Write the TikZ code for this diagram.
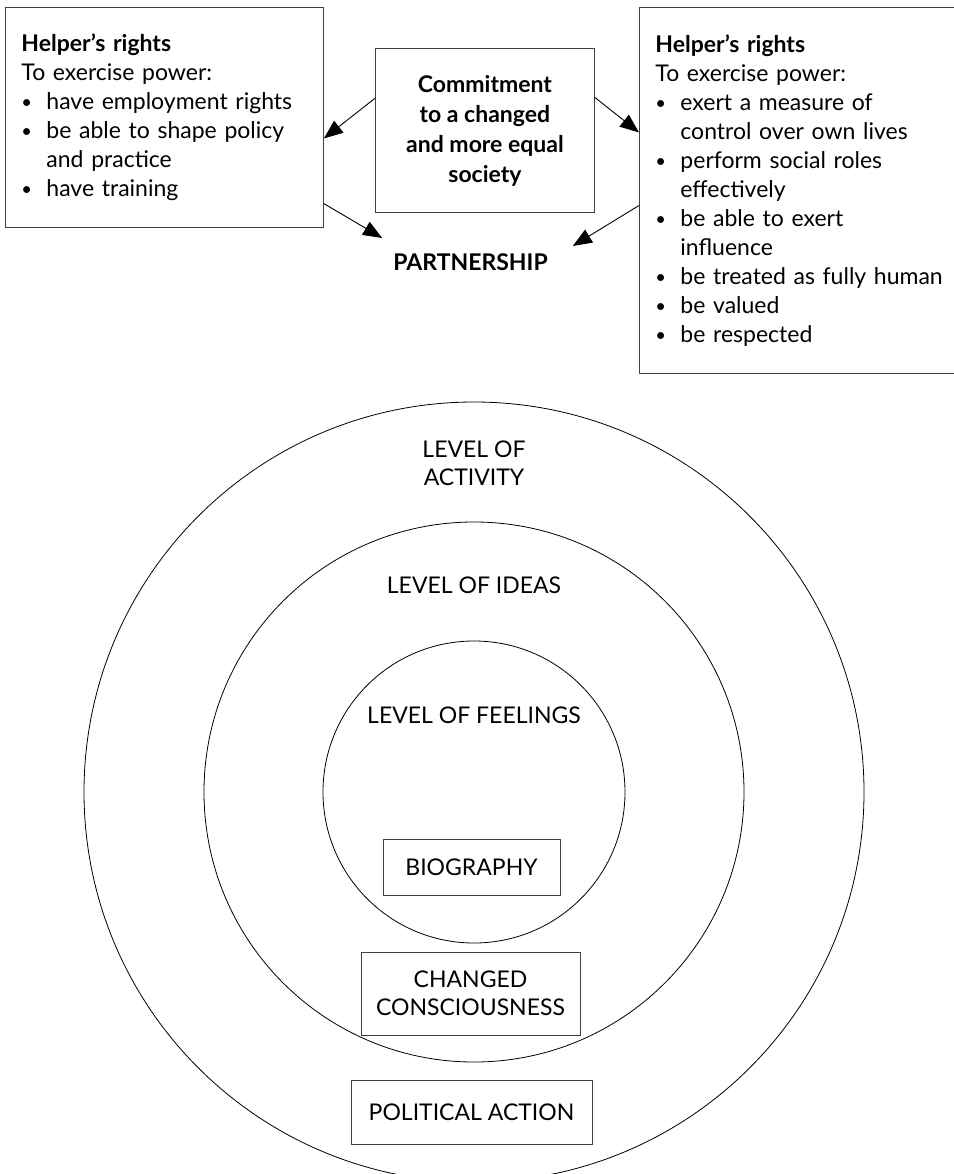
\documentclass[tikz,border=0pt]{standalone}
\usepackage{fontspec}
\setmainfont{Lato}
\usetikzlibrary{arrows.meta,calc}
\newcommand\myitem[1]{\par\hangindent=25pt\hangafter=1\noindent\makebox[25pt][l]{\raisebox{1pt}{\scalebox{0.8}{\textbullet}}}#1}
\tikzset{
  txt/.style={font=\fontsize{23pt}{29pt}\selectfont},
  infobox/.style={txt,draw=black!75,line width=0.9pt,anchor=north west,align=left,inner xsep=16pt,inner ysep=0pt},
  lvlbox/.style={txt,draw=black!75,line width=0.9pt,align=center,inner sep=0pt},
  ring/.style={circle,draw=black,line width=0.8pt,inner sep=0pt},
  conn/.style={line width=0.9pt,-{Triangle[length=19pt,width=15pt]}}
}
\begin{document}
\begin{tikzpicture}[x=1pt,y=-1pt]
\useasboundingbox (0,0) rectangle (953,1174);
% top boxes
\node[infobox,text width=286pt,minimum height=220pt] (lbox) at (5,7)
 {{\bfseries Helper’s rights}\par To exercise power:\myitem{have employment rights}\myitem{be able to shape policy\newline and practice}\myitem{have training}};
\node[txt,draw=black!75,line width=0.9pt,anchor=north west,align=center,minimum width=219pt,minimum height=164pt,inner sep=0pt,font=\fontsize{23pt}{30pt}\selectfont\bfseries] (cbox) at (375,48)
 {Commitment\\to a changed\\and more equal\\society};
\node[infobox,text width=298pt,minimum height=366pt] (rbox) at (639,7)
 {{\bfseries Helper’s rights}\par To exercise power:\myitem{exert a measure of\newline control over own lives}\myitem{perform social roles\newline effectively}\myitem{be able to exert\newline influence}\myitem{be treated as fully human}\myitem{be valued}\myitem{be respected}};
\node[txt,font=\fontsize{23pt}{29pt}\selectfont\bfseries,anchor=base,inner sep=0pt] (pn) at (470.5,270) {PARTNERSHIP};
% connectors
\draw[conn] ($(cbox.north west)!0.305!(cbox.south west)$) -- ($(lbox.north east)!0.595!(lbox.south east)$);
\draw[conn] ($(cbox.north east)!0.30!(cbox.south east)$) -- ($(rbox.north west)!0.342!(rbox.south west)$);
\draw[conn] ($(lbox.north east)!0.89!(lbox.south east)$) -- ([shift={(-11,-15)}]pn.north west);
\draw[conn] ($(rbox.north west)!0.541!(rbox.south west)$) -- ([shift={(25,-7)}]pn.north east);
% rings
\node[ring,minimum size=780pt] (c3) at (474,792) {};
\node[ring,minimum size=540pt] (c2) at (474,792) {};
\node[ring,minimum size=302pt] (c1) at (474,792) {};
\node[txt,align=center,anchor=base,inner sep=0pt,font=\fontsize{23pt}{28pt}\selectfont] (t3) at (474,485) {LEVEL OF\\ACTIVITY};
\node[txt,anchor=base,inner sep=0pt] (t2) at (474,593) {LEVEL OF IDEAS};
\node[txt,anchor=base,inner sep=0pt] (t1) at (474,723) {LEVEL OF FEELINGS};
\node[lvlbox,minimum width=177pt,minimum height=56pt] (bio) at (471.5,867) {BIOGRAPHY};
\node[lvlbox,minimum width=219pt,minimum height=83pt,font=\fontsize{23pt}{28pt}\selectfont] (cc) at (470.5,993.5) {CHANGED\\CONSCIOUSNESS};
\node[lvlbox,minimum width=241pt,minimum height=64pt] (pa) at (471.5,1112) {POLITICAL ACTION};
\end{tikzpicture}
\end{document}
